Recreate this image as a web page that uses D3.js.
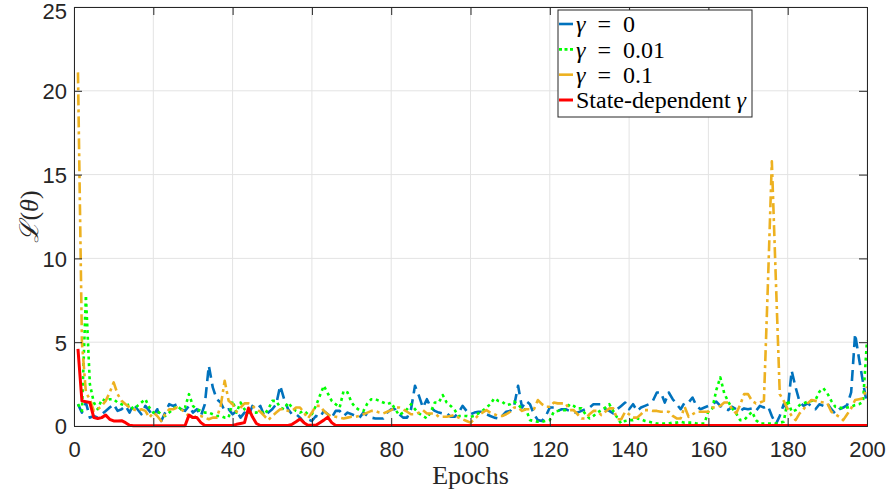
<!DOCTYPE html>
<html>
<head>
<meta charset="utf-8">
<script src="https://cdn.jsdelivr.net/npm/d3@7/dist/d3.min.js"></script>
<style>
  html, body { margin: 0; padding: 0; background: #fff; }
  svg { display: block; }
</style>
</head>
<body>
<svg id="chart" width="891" height="502"></svg>
<script>
// Training loss per epoch for different gamma settings
const epochs = d3.range(1, 201);

const lossGamma0 = [
  1.3, 0.8, 1.4, 0.5, 0.6, 0.5, 0.7, 0.9, 1.1, 1.3,
  0.9, 1.0, 1.2, 0.8, 1.3, 1.0, 0.7, 1.2, 0.9, 0.6,
  1.0, 0.3, 0.8, 1.3, 1.2, 1.3, 1.0, 0.9, 1.2, 0.8,
  1.0, 0.6, 1.3, 3.6, 2.3, 1.6, 1.4, 0.9, 1.0, 0.7,
  0.9, 0.5, 0.8, 0.6, 1.2, 1.0, 1.2, 0.6, 0.8, 1.0,
  1.3, 2.4, 1.6, 1.0, 0.7, 0.7, 0.5, 0.2, 0.4, 0.3,
  0.6, 0.5, 0.9, 0.7, 0.5, 0.9, 0.9, 0.6, 0.8, 0.7,
  0.6, 0.5, 0.8, 0.6, 0.5, 0.45, 0.45, 0.45, 0.8, 1.0,
  1.0, 0.7, 0.5, 0.5, 1.0, 2.4, 1.8, 1.1, 1.6, 1.1,
  0.9, 0.8, 0.75, 0.75, 0.55, 0.55, 0.8, 1.2, 0.9, 0.7,
  0.8, 0.85, 0.85, 0.7, 0.6, 0.5, 0.45, 0.6, 0.85, 0.9,
  1.2, 2.4, 1.1, 1.5, 1.3, 0.7, 0.35, 0.3, 0.6, 1.1,
  1.1, 0.9, 1.0, 1.0, 0.9, 0.8, 0.8, 0.9, 1.0, 1.1,
  1.3, 1.3, 1.3, 1.0, 0.9, 0.75, 1.0, 1.2, 1.4, 1.0,
  1.3, 0.9, 1.1, 1.2, 1.3, 1.5, 2.0, 2.0, 1.4, 2.0,
  1.6, 1.3, 1.0, 1.4, 1.4, 1.7, 1.2, 1.0, 1.1, 1.2,
  1.3, 1.45, 1.2, 1.0, 0.95, 1.15, 1.0, 0.9, 1.05, 1.0,
  1.05, 0.9, 1.2, 1.1, 1.2, 0.6, 0.1, 0.6, 1.3, 1.0,
  3.3, 2.3, 1.45, 1.2, 1.35, 1.2, 1.0, 1.3, 1.2, 1.35,
  1.0, 0.75, 1.0, 1.1, 1.25, 2.0, 5.5, 4.0, 2.6, 1.3
];

const lossGamma001 = [
  1.3, 0.9, 7.8, 2.5, 1.4, 1.0, 1.6, 1.5, 1.6, 1.6,
  1.4, 1.3, 1.2, 1.3, 1.0, 1.2, 1.4, 1.6, 1.1, 0.8,
  0.9, 0.7, 0.6, 0.8, 1.0, 1.2, 1.0, 1.1, 1.9, 1.2,
  1.0, 0.9, 0.8, 0.8, 0.7, 0.6, 0.6, 0.5, 0.5, 1.5,
  0.8, 1.4, 1.0, 0.8, 0.8, 0.8, 0.9, 0.7, 1.0, 1.5,
  1.5, 1.1, 1.0, 1.4, 1.1, 0.9, 0.8, 0.9, 0.7, 0.7,
  1.2, 1.8, 2.4, 1.95, 1.5, 1.3, 1.1, 2.1, 2.0, 1.4,
  1.1, 0.95, 0.9, 1.35, 1.6, 1.6, 1.5, 1.4, 1.3, 1.4,
  1.0, 0.65, 0.8, 1.0, 1.3, 1.0, 0.75, 0.6, 0.45, 0.85,
  1.4, 1.4, 1.85, 1.4, 1.2, 0.95, 0.6, 0.6, 0.6, 0.55,
  0.6, 0.75, 0.9, 1.1, 1.3, 1.65, 1.5, 1.45, 1.25, 1.3,
  1.45, 1.3, 1.0, 1.0, 0.35, 0.3, 0.25, 0.25, 0.3, 0.35,
  0.85, 0.9, 0.95, 0.95, 1.3, 1.2, 1.05, 1.05, 0.7, 0.45,
  0.6, 0.8, 0.95, 1.1, 1.3, 0.9, 0.5, 0.15, 0.3, 0.35,
  0.35, 0.45, 0.4, 0.3, 0.25, 0.2, 0.15, 0.15, 0.15, 0.15,
  0.2, 0.2, 0.25, 0.2, 0.2, 0.2, 0.15, 0.15, 0.15, 0.9,
  1.05, 2.15, 2.9, 1.95, 1.45, 1.05, 0.75, 0.35, 0.35, 0.6,
  0.85, 0.35, 0.15, 0.15, 0.15, 0.15, 0.15, 0.2, 0.25, 1.55,
  0.85, 0.95, 1.25, 1.35, 1.45, 1.5, 1.55, 2.05, 2.25, 1.95,
  1.5, 1.15, 1.1, 1.05, 1.1, 1.15, 1.25, 1.3, 1.45, 5.1
];

const lossGamma01 = [
  21.1, 5.0, 2.0, 1.6, 0.9, 1.0, 1.2, 1.5, 2.0, 2.6,
  1.9, 1.5, 1.3, 1.1, 1.0, 0.9, 1.0, 0.9, 0.5, 0.8,
  0.6, 0.3, 0.7, 1.0, 1.0, 1.1, 1.0, 0.8, 0.6, 0.5,
  0.6, 0.6, 0.5, 0.4, 0.5, 0.5, 1.2, 2.7, 1.5, 1.3,
  0.85, 1.1, 1.35, 1.35, 1.2, 1.0, 0.85, 0.6, 0.35, 0.6,
  0.8, 1.0, 1.0, 0.9, 0.9, 1.1, 1.1, 0.8, 0.45, 0.8,
  1.2, 1.2, 0.9, 0.7, 0.55, 0.55, 0.5, 0.45, 0.5, 0.55,
  0.55, 0.6, 0.7, 0.8, 0.9, 0.9, 0.8, 0.75, 0.85, 0.95,
  1.1, 1.1, 1.0, 0.85, 0.7, 0.7, 0.8, 0.95, 0.75, 0.75,
  0.75, 0.55, 0.55, 0.55, 0.6, 0.65, 0.5, 0.4, 0.3, 0.2,
  0.4, 0.65, 0.8, 0.95, 0.8, 0.7, 0.6, 0.6, 0.7, 0.85,
  1.1, 1.1, 0.9, 1.0, 1.0, 1.0, 1.55, 1.3, 1.15, 1.15,
  1.4, 1.35, 1.35, 1.35, 0.95, 0.95, 0.7, 0.45, 0.45, 0.7,
  0.9, 0.9, 0.65, 0.85, 1.05, 1.05, 0.4, 0.4, 0.85, 0.7,
  0.5, 0.5, 0.7, 0.95, 0.95, 0.9, 0.9, 0.85, 0.85, 0.85,
  0.6, 0.45, 0.45, 1.15, 0.55, 0.7, 0.85, 0.85, 0.85, 0.85,
  1.1, 1.1, 1.2, 1.4, 1.4, 1.0, 0.75, 1.25, 1.9, 1.9,
  1.5, 1.35, 1.4, 1.5, 8.4, 15.8, 8.8, 1.9, 1.5, 1.0,
  0.6, 0.35, 0.75, 1.0, 1.35, 1.55, 1.5, 1.45, 1.4, 1.35,
  0.85, 0.7, 0.55, 0.35, 0.7, 1.05, 1.55, 1.6, 1.65, 2.35
];

const lossStateDependent = [
  4.6, 1.5, 1.45, 1.4, 0.5, 0.45, 0.5, 0.65, 0.4, 0.3,
  0.3, 0.32, 0.2, 0.05, 0.02, 0.02, 0.02, 0.02, 0.02, 0.02,
  0.02, 0.02, 0.02, 0.02, 0.02, 0.02, 0.02, 0.02, 0.65, 0.5,
  0.5, 0.2, 0.03, 0.03, 0.03, 0.03, 0.03, 0.03, 0.03, 0.03,
  0.1, 0.15, 0.2, 1.07, 0.55, 0.15, 0.03, 0.03, 0.03, 0.03,
  0.03, 0.03, 0.03, 0.03, 0.1, 0.25, 0.42, 0.2, 0.05, 0.05,
  0.05, 0.2, 0.35, 0.53, 0.2, 0.03, 0.03, 0.03, 0.03, 0.03,
  0.03, 0.03, 0.03, 0.03, 0.03, 0.03, 0.03, 0.03, 0.03, 0.03,
  0.03, 0.03, 0.03, 0.03, 0.03, 0.03, 0.03, 0.03, 0.03, 0.03,
  0.03, 0.03, 0.03, 0.03, 0.03, 0.03, 0.03, 0.03, 0.03, 0.03,
  0.03, 0.03, 0.03, 0.03, 0.03, 0.03, 0.03, 0.03, 0.03, 0.03,
  0.03, 0.03, 0.03, 0.03, 0.03, 0.03, 0.03, 0.03, 0.03, 0.03,
  0.03, 0.03, 0.03, 0.03, 0.03, 0.03, 0.03, 0.03, 0.03, 0.03,
  0.03, 0.03, 0.03, 0.03, 0.03, 0.03, 0.03, 0.03, 0.03, 0.03,
  0.03, 0.03, 0.03, 0.03, 0.03, 0.03, 0.03, 0.03, 0.03, 0.03,
  0.03, 0.03, 0.03, 0.03, 0.03, 0.03, 0.03, 0.03, 0.03, 0.03,
  0.03, 0.03, 0.03, 0.03, 0.03, 0.03, 0.03, 0.03, 0.03, 0.03,
  0.03, 0.03, 0.03, 0.03, 0.03, 0.03, 0.03, 0.03, 0.03, 0.03,
  0.03, 0.03, 0.03, 0.03, 0.03, 0.03, 0.03, 0.03, 0.03, 0.03,
  0.03, 0.03, 0.03, 0.03, 0.03, 0.03, 0.03, 0.03, 0.03, 0.03
];

const xTicks = [0, 20, 40, 60, 80, 100, 120, 140, 160, 180, 200];
const yTicks = [0, 5, 10, 15, 20, 25];
const legendLabels = ["γ = 0", "γ = 0.01", "γ = 0.1", "State-dependent γ"];

const series = [
  { values: lossGamma0,         color: "#0072BD", width: 2.6, dash: "11,6",     legendDash: null,  label: legendLabels[0] },
  { values: lossGamma001,       color: "#00FF00", width: 2.6, dash: "3,3.6",    legendDash: "3,2.5", label: legendLabels[1] },
  { values: lossGamma01,        color: "#EDB120", width: 2.6, dash: "11,4,3,4", legendDash: null,  label: legendLabels[2] },
  { values: lossStateDependent, color: "#FF0000", width: 3.0, dash: null,       legendDash: null,  label: legendLabels[3] }
];

const svg = d3.select("#chart");
const plot = { left: 74, right: 867, top: 7, bottom: 426 };

const x = d3.scaleLinear().domain([0, 200]).range([plot.left, plot.right]);
const y = d3.scaleLinear().domain([0, 25]).range([plot.bottom, plot.top]);

const axisColor = "#262626";
const tickFont = "'Liberation Sans', Arial, Helvetica, sans-serif";
const serifFont = "'Liberation Serif', 'DejaVu Serif', 'Times New Roman', serif";

// grid
const grid = svg.append("g");
grid.selectAll("line.gx").data(xTicks).join("line")
  .attr("x1", d => x(d)).attr("x2", d => x(d))
  .attr("y1", plot.top).attr("y2", plot.bottom)
  .attr("stroke", "#e3e3e3").attr("stroke-width", 1);
grid.selectAll("line.gy").data(yTicks).join("line")
  .attr("x1", plot.left).attr("x2", plot.right)
  .attr("y1", d => y(d)).attr("y2", d => y(d))
  .attr("stroke", "#e3e3e3").attr("stroke-width", 1);

// data lines
svg.append("clipPath").attr("id", "plotClip").append("rect")
  .attr("x", plot.left).attr("y", plot.top)
  .attr("width", plot.right - plot.left).attr("height", plot.bottom - plot.top + 2);

const line = d3.line().x((d, i) => x(epochs[i])).y(d => y(d));
const lines = svg.append("g").attr("clip-path", "url(#plotClip)");
series.forEach(s => {
  lines.append("path")
    .attr("d", line(s.values))
    .attr("fill", "none")
    .attr("stroke", s.color)
    .attr("stroke-width", s.width)
    .attr("stroke-linejoin", "round")
    .attr("stroke-dasharray", s.dash);
});

// axes (ticks pointing inward, box on all four sides)
const tickLen = 8;
const axB = svg.append("g").attr("transform", `translate(0,${plot.bottom})`)
  .call(d3.axisBottom(x).tickValues(xTicks).tickSize(-tickLen).tickPadding(16).tickFormat(d3.format("d")));
const axT = svg.append("g").attr("transform", `translate(0,${plot.top})`)
  .call(d3.axisTop(x).tickValues(xTicks).tickSize(-tickLen).tickFormat(""));
const axL = svg.append("g").attr("transform", `translate(${plot.left},0)`)
  .call(d3.axisLeft(y).tickValues(yTicks).tickSize(-tickLen).tickPadding(7).tickFormat(d3.format("d")));
const axR = svg.append("g").attr("transform", `translate(${plot.right},0)`)
  .call(d3.axisRight(y).tickValues(yTicks).tickSize(-tickLen).tickFormat(""));

[axB, axT, axL, axR].forEach(a => {
  a.select(".domain").attr("stroke", axisColor).attr("stroke-width", 1);
  a.selectAll(".tick line").attr("stroke", axisColor).attr("stroke-width", 1);
  a.selectAll(".tick text").attr("fill", axisColor)
    .style("font-family", tickFont).style("font-size", "22px");
});
axB.selectAll(".tick text").attr("y", 15).attr("dy", "0.71em");
axL.selectAll(".tick text").attr("dy", d => d === 25 ? "0.5em" : "0.36em");

// axis labels
svg.append("text")
  .attr("x", (plot.left + plot.right) / 2).attr("y", 484)
  .attr("text-anchor", "middle")
  .style("font-family", serifFont).style("font-size", "26px")
  .attr("fill", axisColor)
  .text("Epochs");

const yl = svg.append("text")
  .attr("transform", `translate(38,${(plot.top + plot.bottom) / 2}) rotate(-90)`)
  .attr("text-anchor", "middle")
  .style("font-family", serifFont).style("font-size", "26px")
  .attr("fill", axisColor);
yl.append("tspan").style("font-family", "'DejaVu Serif', serif").style("font-style", "italic").text("ℒ");
yl.append("tspan").text("(");
yl.append("tspan").style("font-style", "italic").text("θ");
yl.append("tspan").text(")");

// legend
const lg = svg.append("g");
const lgBox = { x: 558, y: 10, w: 194, h: 107 };
lg.append("rect")
  .attr("x", lgBox.x).attr("y", lgBox.y).attr("width", lgBox.w).attr("height", lgBox.h)
  .attr("fill", "#fff").attr("stroke", axisColor).attr("stroke-width", 1);

const rowY = d3.scalePoint().domain(legendLabels).range([24, 100]);
series.forEach(s => {
  const yy = rowY(s.label);
  lg.append("line")
    .attr("x1", 559).attr("x2", 573).attr("y1", yy).attr("y2", yy)
    .attr("stroke", s.color).attr("stroke-width", s.width)
    .attr("stroke-dasharray", s.legendDash);
  const t = lg.append("text")
    .attr("x", 576).attr("y", yy).attr("dy", "0.35em")
    .style("font-family", serifFont).style("font-size", "24px")
    .attr("fill", "#000");
  const m = s.label.match(/^(.*?)γ(.*)$/);
  if (m[1]) t.append("tspan").text(m[1]);
  t.append("tspan").style("font-style", "italic").text("γ");
  if (m[2]) t.append("tspan").attr("xml:space", "preserve").text(m[2].replace(" = ", "  =  "));
});
</script>
</body>
</html>
